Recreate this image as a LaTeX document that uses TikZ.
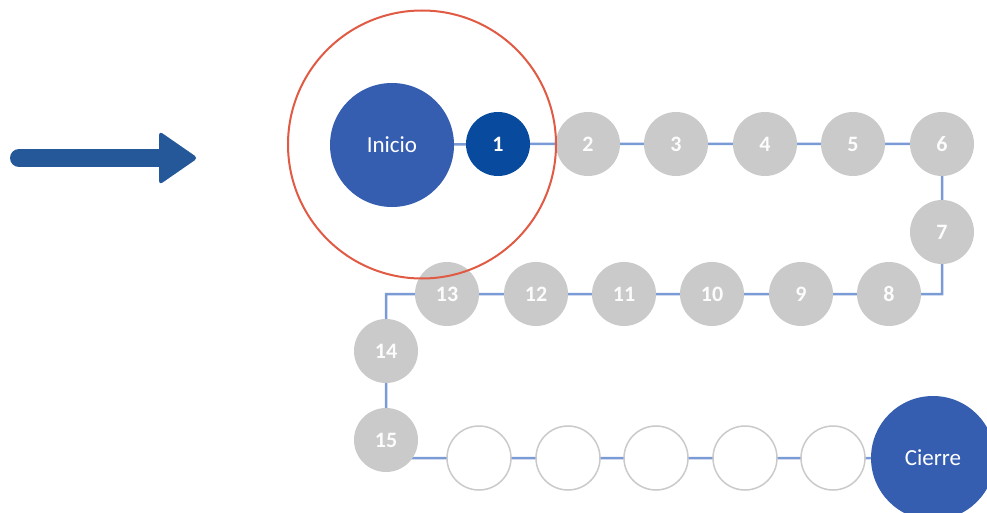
\documentclass[tikz,border=0pt]{standalone}
\usepackage{fontspec}
\setmainfont{Carlito}
\usetikzlibrary{backgrounds}
\definecolor{startblue}{HTML}{365EB0}
\definecolor{firstblue}{HTML}{074A9E}
\definecolor{stepgrey}{HTML}{CACACA}
\definecolor{trackblue}{HTML}{7A9BD6}
\definecolor{arrowblue}{HTML}{255899}
\definecolor{ringred}{HTML}{E05A44}
\tikzset{
  bigstop/.style={circle, fill=startblue, minimum size=124pt, inner sep=0pt,
    text=white, font=\fontsize{23}{26}\selectfont},
  firststop/.style={circle, fill=firstblue, minimum size=64pt, inner sep=0pt,
    text=white, font=\fontsize{22}{25}\selectfont\bfseries},
  donestop/.style={circle, fill=stepgrey, minimum size=64pt, inner sep=0pt,
    text=white!95!stepgrey, font=\fontsize{22}{25}\selectfont\bfseries},
  openstop/.style={circle, fill=white, draw=stepgrey, line width=1.5pt,
    minimum size=64pt, inner sep=0pt},
  track/.style={draw=trackblue, line width=2.5pt},
  ring/.style={circle, draw=ringred, line width=2pt, minimum size=268pt, inner sep=0pt}
}
\begin{document}
\begin{tikzpicture}[x=1pt,y=-1pt]
\clip (0,0) rectangle (987,513);

% pointer arrow
\draw[arrowblue, line width=18pt, line cap=round] (19,158) -- (166,158);
\fill[arrowblue, rounded corners=4pt] (159,131) -- (198,158) -- (159,185) -- cycle;

% stops
\node[bigstop] (ini) at (392,145) {Inicio};
\node[firststop] (n1) at (498,144) {1};
\node[donestop] (n2) at (588,144) {2};
\node[donestop] (n3) at (676,144) {3};
\node[donestop] (n4) at (765,144) {4};
\node[donestop] (n5) at (853,144) {5};
\node[donestop] (n6) at (942,144) {6};
\node[donestop] (n7) at (942,232) {7};
\node[donestop] (n8) at (889,294) {8};
\node[donestop] (n9) at (801,294) {9};
\node[donestop] (n10) at (712,294) {10};
\node[donestop] (n11) at (624,294) {11};
\node[donestop] (n12) at (536,294) {12};
\node[donestop] (n13) at (447,294) {13};
\node[donestop] (n14) at (386,351) {14};
\node[donestop] (n15) at (386,440) {15};
\node[openstop] (e1) at (479,458) {};
\node[openstop] (e2) at (568,458) {};
\node[openstop] (e3) at (656,458) {};
\node[openstop] (e4) at (745,458) {};
\node[openstop] (e5) at (833,458) {};
\node[bigstop] (fin) at (933,458) {Cierre};

% white page and the track joining the stops, behind everything
\begin{pgfonlayer}{background}
\fill[white] (0,0) rectangle (987,513);
\path[track] (ini.center) -- (n1.center) -- (n2.center) -- (n3.center) -- (n4.center)
  -- (n5.center) -- (n6.center) -- (n7.center) |- (n8.center) -- (n9.center)
  -- (n10.center) -- (n11.center) -- (n12.center) -- (n13.center) -| (n14.center)
  -- (n15.center) |- (e1.center) -- (e2.center) -- (e3.center) -- (e4.center)
  -- (e5.center) -- (fin.center);
\end{pgfonlayer}

% highlight ring around the start
\node[ring] (focus) at (422,144.5) {};
\end{tikzpicture}
\end{document}
